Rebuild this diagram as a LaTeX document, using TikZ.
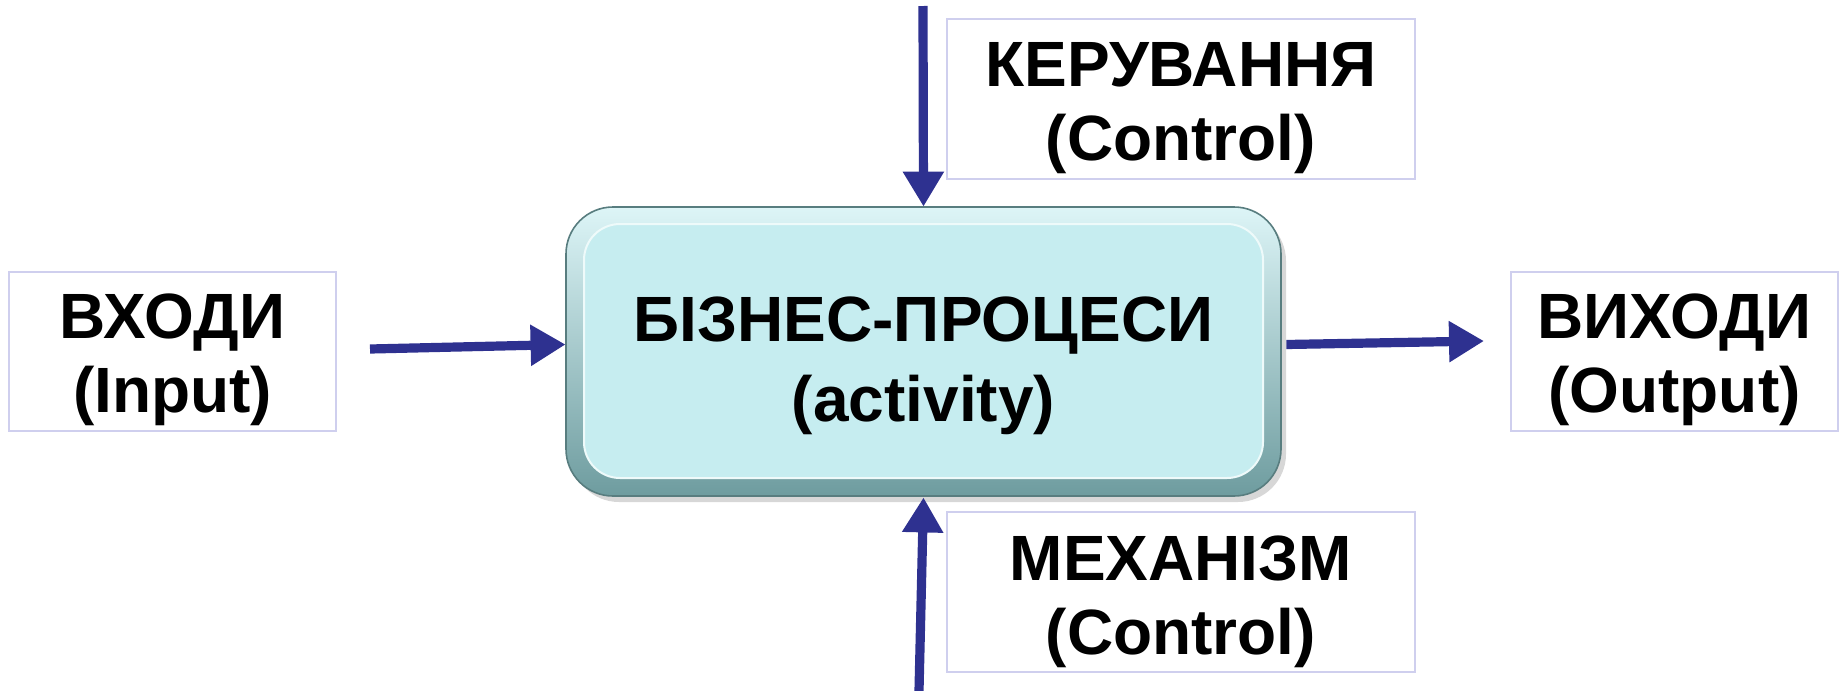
\documentclass[tikz,border=0pt]{standalone}
\usepackage{fontspec}
\setmainfont{Liberation Sans}
\usetikzlibrary{calc,arrows.meta}
\definecolor{arrowblue}{HTML}{2E3190}
\definecolor{lavender}{HTML}{CFCFEE}
\definecolor{boxcyan}{HTML}{C6EDF0}
\definecolor{bevtop}{HTML}{DDF5F7}
\definecolor{bevbot}{HTML}{6E9C9F}
\tikzset{
  labelframe/.style={draw=lavender, line width=1.1pt, fill=white, inner sep=0pt},
  labeltext/.style={align=center, font=\fontsize{32}{37}\selectfont\bfseries, inner sep=0pt},
  flowarrow/.style={draw=arrowblue, line width=4.6pt,
    -{Triangle[length=17.5pt,width=19.5pt]}},
}
\begin{document}
\begin{tikzpicture}[x=0.5pt,y=-0.5pt]
\useasboundingbox (0,0) rectangle (1843,691);
% central box with bevel
\fill[black!35, opacity=0.45, rounded corners=24pt] (571,213) rectangle (1286,502);
\shade[top color=bevtop, bottom color=bevbot, rounded corners=23.5pt, draw=bevbot!80!black, line width=0.8pt]
  (566,207) rectangle (1281,496);
\fill[rounded corners=18pt, draw=white!70!boxcyan, line width=1pt, fill=boxcyan]
  (584,224) rectangle (1263,478);
\node[minimum width=357.5pt, minimum height=144.5pt, inner sep=0pt] (central) at (923.5,351.5) {};
\node[align=center, font=\fontsize{32}{40}\selectfont\bfseries, inner sep=0pt]
  (centralT) at ([yshift=-7pt]central.center) {БІЗНЕС-ПРОЦЕСИ\\(activity)};
% label boxes
\node[labelframe, minimum width=163.5pt, minimum height=79.5pt] (input) at (172.5,351.5) {};
\node[labelframe, minimum width=163.5pt, minimum height=79.5pt] (output) at (1674.5,351.5) {};
\node[labelframe, minimum width=234pt, minimum height=80pt] (control) at (1181,99) {};
\node[labelframe, minimum width=234pt, minimum height=80pt] (mech) at (1181,592) {};
\node[labeltext] (inputT) at ([yshift=-4.3pt]input.center) {ВХОДИ\\(Input)};
\node[labeltext] (outputT) at ([yshift=-4.3pt]output.center) {ВИХОДИ\\(Output)};
\node[labeltext] (controlT) at ([yshift=-4.5pt]control.center) {КЕРУВАННЯ\\(Control)};
\node[labeltext] (mechT) at ([yshift=-4.8pt]mech.center) {МЕХАНІЗМ\\(Control)};
% arrows
\coordinate (inA) at (370,349);
\coordinate (outB) at (1484,341);
\coordinate (topA) at (923,6);
\coordinate (botA) at (919,691);
\draw[flowarrow] (inA) -- ($(central.west)+(0,-7)$);
\draw[flowarrow] ($(central.east)+(5,-7)$) -- (outB);
\draw[flowarrow] (topA) -- (central.north);
\draw[flowarrow] (botA) -- ($(central.south)+(0,1)$);
\end{tikzpicture}
\end{document}
